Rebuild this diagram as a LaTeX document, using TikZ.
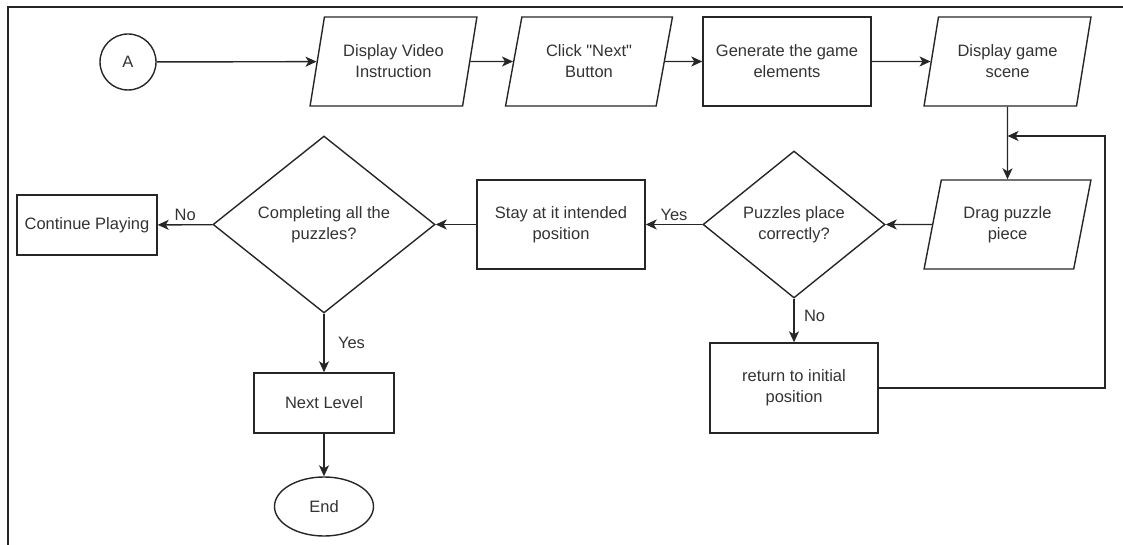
\documentclass[tikz,border=0pt]{standalone}
\usepackage{fontspec}
\setmainfont{Liberation Sans}
\usetikzlibrary{shapes.geometric,arrows.meta}

\tikzset{
  flow/.style={draw=black!85, line width=1.4pt, font=\fontsize{16.5}{21}\selectfont,
    text=black!80, align=center, inner sep=0pt},
  io/.style={flow, trapezium, trapezium left angle=72.5, trapezium right angle=107.5,
    trapezium stretches=true, minimum width=167, minimum height=89},
  process/.style={flow, rectangle},
  decision/.style={flow, diamond},
  terminal/.style={flow, ellipse},
  connector/.style={flow, circle, minimum size=56},
  link/.style={draw=black!85, line width=1.4pt, -{Stealth[length=11pt,width=10pt,inset=3pt]}},
  answer/.style={font=\fontsize{16.5}{21}\selectfont, text=black!80}
}

\begin{document}
\begin{tikzpicture}[x=1pt, y=-1pt]

    \useasboundingbox (0,0) rectangle (1123,545);

    % Page frame (top and left edges)
    \draw[line width=1.4pt, black!85] (8,545) -- (8,7) -- (1123,7);

    % Top row
    \node[connector] (start) at (128,62) {A};
    \node[io] (video) at (393.5,61.5) {Display Video\\Instruction};
    \node[io] (next) at (589,61.5) {Click \textquotedbl Next\textquotedbl\\Button};
    \node[process, minimum width=168, minimum height=89] (generate) at (787,61.5) {Generate the game\\elements};
    \node[io] (scene) at (1007.5,61.5) {Display game\\scene};

    % Middle row
    \node[io] (drag) at (1007.5,224.5) {Drag puzzle\\piece};
    \node[decision, minimum width=182, minimum height=147] (placed) at (794,224.5) {Puzzles place\\correctly?};
    \node[process, minimum width=168, minimum height=89] (stay) at (561,224.5) {Stay at it intended\\position};
    \node[decision, minimum width=222, minimum height=177] (complete) at (324,224.5) {Completing all the\\puzzles?};
    \node[process, minimum width=140, minimum height=60] (continue) at (87,225) {Continue Playing};

    % Bottom row
    \node[process, minimum width=140, minimum height=60] (level) at (324,403) {Next Level};
    \node[terminal, minimum width=99, minimum height=59] (end) at (324,506.5) {End};
    \node[process, minimum width=168, minimum height=90] (return) at (794,388) {return to initial\\position};

    % Loop back point above the drag step
    \coordinate (corner) at (1105,136);
    \coordinate (merge) at (scene.south |- corner);

    % Connectors
    \draw[link] (start) -- (video);
    \draw[link] (video) -- (next);
    \draw[link] (next) -- (generate);
    \draw[link] (generate) -- (scene);
    \draw[link] (scene) -- (drag);
    \draw[link] (drag) -- (placed);
    \draw[link] (placed) -- node[answer, above] {Yes} (stay);
    \draw[link] (stay) -- (complete);
    \draw[link] (complete) -- node[answer, above] {No} (continue);
    \draw[link] (complete) -- node[answer, right=10pt] {Yes} (level);
    \draw[link] (level) -- (end);
    \draw[link] (placed) -- node[answer, right=6pt, pos=0.4] {No} (return);
    \draw[link] (return.east) -| (corner) -- (merge);

\end{tikzpicture}
\end{document}
